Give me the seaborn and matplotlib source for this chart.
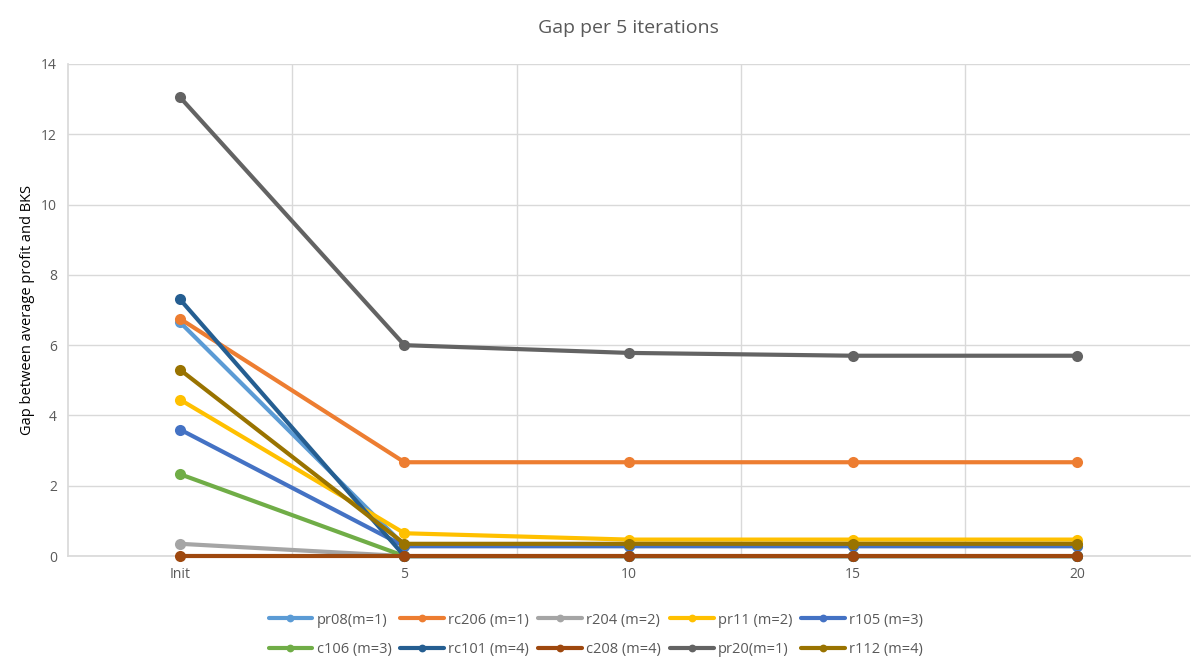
import matplotlib
matplotlib.use("Agg")
import matplotlib.pyplot as plt
import seaborn as sns
import pandas as pd
import numpy as np

categories = ["Init", "5", "10", "15", "20"]
series_names = ["pr08(m=1)", "rc206 (m=1)", "r204 (m=2)", "pr11 (m=2)", "r105 (m=3)",
                "c106 (m=3)", "rc101 (m=4)", "c208 (m=4)", "pr20(m=1)", "r112 (m=4)"]
pr08 = [6.65, 0.30, 0.30, 0.30, 0.30]
rc206 = [6.75, 2.67, 2.67, 2.67, 2.67]
r204 = [0.35, 0.0, 0.0, 0.0, 0.0]
pr11 = [4.45, 0.65, 0.47, 0.47, 0.47]
r105 = [3.6, 0.28, 0.28, 0.28, 0.28]
c106 = [2.33, 0.0, 0.0, 0.0, 0.0]
rc101 = [7.3, 0.0, 0.0, 0.0, 0.0]
c208 = [0.0, 0.0, 0.0, 0.0, 0.0]
pr20 = [13.05, 6.0, 5.78, 5.7, 5.7]
r112 = [5.3, 0.35, 0.35, 0.35, 0.35]
values = [pr08, rc206, r204, pr11, r105, c106, rc101, c208, pr20, r112]
colors = ["#5B9BD5", "#ED7D31", "#A5A5A5", "#FFC000", "#4472C4",
          "#70AD47", "#255E91", "#9E480E", "#636363", "#997300"]

rows = []
for name, vals in zip(series_names, values):
    for i, v in enumerate(vals):
        rows.append({"series": name, "pos": i, "gap": v})
df = pd.DataFrame(rows)

sns.set_theme(style="white")
plt.rcParams['font.family'] = ['Open Sans', 'DejaVu Sans']

fig = plt.figure(figsize=(11.92, 6.66), dpi=100)
ax = fig.add_axes([0.057, 0.165, 0.941, 0.739])

sns.lineplot(data=df, x="pos", y="gap", hue="series", hue_order=series_names,
             palette=colors, marker="o", markersize=8, markeredgewidth=0,
             linewidth=3, sort=False, ax=ax, legend=True, clip_on=False)

ax.set_xlim(-0.5, 4.5)
ax.set_ylim(0, 14)
ax.set_yticks(np.arange(0, 15, 2))
ax.set_xticks(range(len(categories)))
ax.set_xticklabels(categories)
ax.set_xticks(np.arange(0.5, 4.5, 1), minor=True)
ax.grid(False)
ax.yaxis.grid(True, color="#D9D9D9", linewidth=1)
ax.xaxis.grid(True, which="minor", color="#D9D9D9", linewidth=1)
ax.set_axisbelow(True)
for s in ["top", "right"]:
    ax.spines[s].set_visible(False)
ax.spines["left"].set_color("#D9D9D9")
ax.spines["bottom"].set_color("#D9D9D9")
ax.spines["left"].set_zorder(0)
ax.spines["bottom"].set_zorder(0)
ax.tick_params(axis="both", which="both", length=0, labelsize=10, colors="#595959", pad=8)
ax.set_xlabel("")
ax.set_ylabel("Gap between average profit and BKS", fontsize=10.5, color="#000000")
ax.set_title("Gap per 5 iterations", fontsize=14, color="#595959", pad=22)

handles, labels = ax.get_legend_handles_labels()
ax.get_legend().remove()
# reorder so the legend fills row by row (matplotlib fills column by column)
order = []
for c in range(5):
    order += [c, c + 5]
handles = [handles[i] for i in order]
labels = [labels[i] for i in order]
fig.legend(handles, labels, ncol=5, loc="upper center", bbox_to_anchor=(0.5, 0.1),
           frameon=False, fontsize=10.5, handlelength=3, columnspacing=0.6,
           handletextpad=0.3, labelspacing=1.0, labelcolor="#595959", markerscale=0.7)

fig.savefig("out.png", dpi=100)
